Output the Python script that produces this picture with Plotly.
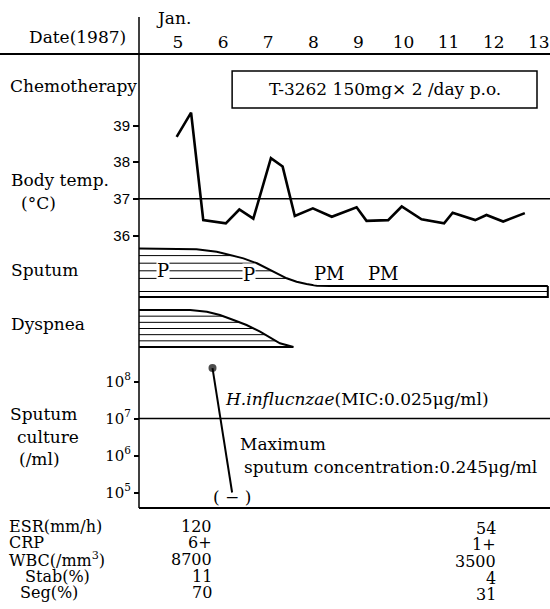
import numpy as np
import plotly.graph_objects as go

# ---------------- data ----------------
days = [5, 6, 7, 8, 9, 10, 11, 12, 13]
day_labels = [str(d) for d in days]

# body temperature (day of January, degC)
temp_day = [4.97, 5.29, 5.56, 6.06, 6.36, 6.67, 7.06, 7.32, 7.59, 7.99, 8.41,
            8.96, 9.18, 9.66, 9.96, 10.40, 10.90, 11.09, 11.59, 11.84, 12.21, 12.69]
temp_c = [38.69, 39.35, 36.42, 36.33, 36.71, 36.46, 38.11, 37.88, 36.53, 36.74, 36.51,
          36.77, 36.40, 36.42, 36.79, 36.44, 36.33, 36.62, 36.42, 36.56, 36.38, 36.61]
normal_temp = 37
temp_ticks = [36, 37, 38, 39]

# chemotherapy period
chemo_start, chemo_end = 6.20, 12.96
chemo_text = "T-3262 150mg× 2 /day p.o."

# sputum amount (arbitrary scale) and character
sputum_day = [4.0, 5.41, 5.86, 6.15, 6.45, 6.75, 6.97, 7.19, 7.41, 7.63, 7.85, 8.08, 8.37, 13.20]
sputum_level = [4.96, 4.83, 4.51, 4.08, 3.64, 2.99, 2.33, 1.67, 1.01, 0.57, 0.26, 0.04, 0.0, 0.0]
sputum_base = -1.45
sputum_marks = ["P", "P", "PM", "PM"]
sputum_mark_day = [4.66, 6.57, 8.37, 9.55]
sputum_mark_level = [2.04, 1.45, 1.58, 1.58]

# dyspnea (arbitrary scale)
dyspnea_day = [4.0, 5.27, 5.64, 5.93, 6.23, 6.52, 6.82, 7.04, 7.26, 7.56]
dyspnea_level = [6.0, 6.0, 5.72, 5.19, 4.38, 3.57, 2.48, 1.57, 0.60, 0.0]

# sputum culture (CFU/ml); the second sample was negative
culture_day = [5.765, 6.20]
culture_cfu = [2.3e8, 1e5]
culture_limit = 1e7
culture_ticks = [1e5, 1e6, 1e7, 1e8]
culture_ticktext = ["10<sup>5</sup>", "10<sup>6</sup>", "10<sup>7</sup>", "10<sup>8</sup>"]

# laboratory findings
lab_names = ["ESR(mm/h)", "CRP", "WBC(/mm<sup>3</sup>)", "Stab(%)", "Seg(%)"]
lab_first = ["120", "6+", "8700", "11", "70"]
lab_last = ["54", "1+", "3500", "4", "31"]

# ---------------- layout helpers ----------------
W, H = 550, 609
SERIF = "DejaVu Serif"
SANS = "Liberation Sans Narrow, Liberation Sans, Arial"
AXIS_X = 139          # left border of the day grid (px)
DAY0_PX, DAY_PX = 178, 45.1   # centre of Jan 5 and width of one day (px)


def fx(x):
    return x / W


def fy(y):
    return 1 - y / H


def axis_range(top_px, bottom_px, p1, v1, p2, v2):
    """Value range of an axis whose domain spans top_px..bottom_px."""
    k = (v2 - v1) / (p2 - p1)
    return [v1 + (bottom_px - p1) * k, v1 + (top_px - p1) * k]


x_lo = 5 - (DAY0_PX - AXIS_X) / DAY_PX
x_hi = x_lo + (W - AXIS_X) / DAY_PX

fig = go.Figure()
black = "black"

# temperature
fig.add_trace(go.Scatter(x=[x_lo, x_hi], y=[normal_temp] * 2, mode="lines",
                         line=dict(color=black, width=1.5), yaxis="y", hoverinfo="skip"))
fig.add_trace(go.Scatter(x=temp_day, y=temp_c, mode="lines",
                         line=dict(color=black, width=2.6), yaxis="y"))

# sputum: outline, hatching, and the thin band of persisting sputum
fig.add_trace(go.Scatter(x=sputum_day, y=sputum_level, mode="lines",
                         line=dict(color=black, width=2), yaxis="y3"))
rev_l, rev_d = sputum_level[::-1], sputum_day[::-1]
hx, hy = [], []
for lv in [1, 2, 3, 4]:
    hx += [sputum_day[0], float(np.interp(lv, rev_l, rev_d)), None]
    hy += [lv, lv, None]
fig.add_trace(go.Scatter(x=hx, y=hy, mode="lines", line=dict(color=black, width=1), yaxis="y3"))
bar_end = sputum_day[-1]
fig.add_trace(go.Scatter(x=[sputum_day[0], bar_end, bar_end, bar_end],
                         y=[sputum_base, sputum_base, sputum_base, 0], mode="lines",
                         line=dict(color=black, width=2), yaxis="y3"))
fig.add_trace(go.Scatter(x=[sputum_day[0], bar_end], y=[sputum_base / 2] * 2, mode="lines",
                         line=dict(color=black, width=1), yaxis="y3"))

# dyspnea
fig.add_trace(go.Scatter(x=dyspnea_day + [dyspnea_day[0]], y=dyspnea_level + [0], mode="lines",
                         line=dict(color=black, width=2), yaxis="y4"))
rev_l, rev_d = dyspnea_level[::-1], dyspnea_day[::-1]
hx, hy = [], []
for lv in [1, 2, 3, 4, 5]:
    hx += [dyspnea_day[0], float(np.interp(lv, rev_l, rev_d)), None]
    hy += [lv, lv, None]
fig.add_trace(go.Scatter(x=hx, y=hy, mode="lines", line=dict(color=black, width=1), yaxis="y4"))

# sputum culture
fig.add_trace(go.Scatter(x=[x_lo, x_hi], y=[culture_limit] * 2, mode="lines",
                         line=dict(color=black, width=1.5), yaxis="y2"))
fig.add_trace(go.Scatter(x=culture_day, y=culture_cfu, mode="lines+markers",
                         line=dict(color=black, width=2),
                         marker=dict(size=[8, 0], color=black, line=dict(width=0)),
                         yaxis="y2"))

# ---------------- frame ----------------
shapes = [
    dict(type="line", xref="paper", yref="paper", x0=0, x1=1, y0=fy(54), y1=fy(54),
         line=dict(color=black, width=2)),
    dict(type="line", xref="paper", yref="paper", x0=fx(AXIS_X), x1=fx(AXIS_X),
         y0=fy(17), y1=fy(508), line=dict(color=black, width=1.5)),
    dict(type="line", xref="paper", yref="paper", x0=fx(AXIS_X), x1=1, y0=fy(508), y1=fy(508),
         line=dict(color=black, width=2)),
    dict(type="rect", xref="x", yref="paper", x0=chemo_start, x1=chemo_end,
         y0=fy(108), y1=fy(71), line=dict(color=black, width=1.5)),
]

ann = []


def text(s, x, y, size=17, xanchor="left", font=SERIF, xref="paper", yref="paper", **kw):
    ann.append(dict(text=s, x=x, y=y, xref=xref, yref=yref, xanchor=xanchor, yanchor="middle",
                    showarrow=False, font=dict(family=font, size=size, color=black), **kw))


text("Date(1987)", fx(27), fy(37))
text("Jan.", 5, fy(18), xanchor="center", xref="x", xshift=-5)
text("Chemotherapy", fx(8), fy(86))
text(chemo_text, (chemo_start + chemo_end) / 2, fy(89), xanchor="center", xref="x")
text("Body temp.", fx(9), fy(180))
text("(°C)", fx(19), fy(203))
text("Sputum", fx(9), fy(270))
text("Dyspnea", fx(9), fy(324))
text("Sputum", fx(8), fy(414))
text("culture", fx(15), fy(437))
text("(/ml)", fx(17), fy(459))

for s, d, lv in zip(sputum_marks, sputum_mark_day, sputum_mark_level):
    text(s, d, lv, size=18, xanchor="center", xref="x", yref="y3", bgcolor="white", borderpad=0)

text("<i>H.influcnzae</i>(MIC:0.025μg/ml)", fx(223), fy(399))
text("Maximum", fx(238), fy(444))
text("sputum concentration:0.245μg/ml", fx(242), fy(467))
text("( − )", fx(232), fy(497), xanchor="center")

rows = [526, 542, 559, 576, 592]
indent = [7, 7, 7, 23, 18]
for name, a, b, r, ind in zip(lab_names, lab_first, lab_last, rows, indent):
    text(name, fx(ind), fy(r), size=16)
    text(a, fx(214), fy(r), size=16, xanchor="right")
    text(b, fx(498), fy(r + 2), size=16, xanchor="right")

temp_range = axis_range(100, 245, 125.5, 39, 235.5, 36)
cult_range = axis_range(360, 508, 381.5, 8, 492.5, 5)
sput_range = axis_range(246, 300, 286, 0, 248, 5)
dysp_range = axis_range(300, 355, 347, 0, 310, 6)

hidden = dict(visible=False, showgrid=False, zeroline=False, anchor="x")

fig.update_layout(
    width=W, height=H, autosize=False,
    margin=dict(l=0, r=0, t=0, b=0, pad=0),
    paper_bgcolor="white", plot_bgcolor="white",
    showlegend=False,
    xaxis=dict(domain=[fx(AXIS_X), 1], range=[x_lo, x_hi], side="top", anchor="free",
               position=fy(51), tickvals=days, ticktext=day_labels, ticks="",
               showline=False, showgrid=False, zeroline=False,
               tickfont=dict(family=SERIF, size=17, color=black)),
    yaxis=dict(domain=[fy(245), fy(100)], range=temp_range, anchor="free", position=fx(AXIS_X),
               tickvals=temp_ticks, ticks="outside", ticklen=6, tickwidth=1.5, tickcolor=black,
               showline=False, showgrid=False, zeroline=False,
               tickfont=dict(family=SANS, size=15, color=black)),
    yaxis2=dict(domain=[fy(508), fy(360)], range=cult_range, type="log", anchor="free",
                position=fx(AXIS_X), tickvals=culture_ticks, ticktext=culture_ticktext,
                ticks="outside", ticklen=5, tickwidth=1.5, tickcolor=black,
                showline=False, showgrid=False, zeroline=False,
                tickfont=dict(family=SERIF, size=15, color=black)),
    yaxis3=dict(domain=[fy(300), fy(246)], range=sput_range, **hidden),
    yaxis4=dict(domain=[fy(355), fy(300)], range=dysp_range, **hidden),
    shapes=shapes,
    annotations=ann,
)

fig.write_html("out.html")
